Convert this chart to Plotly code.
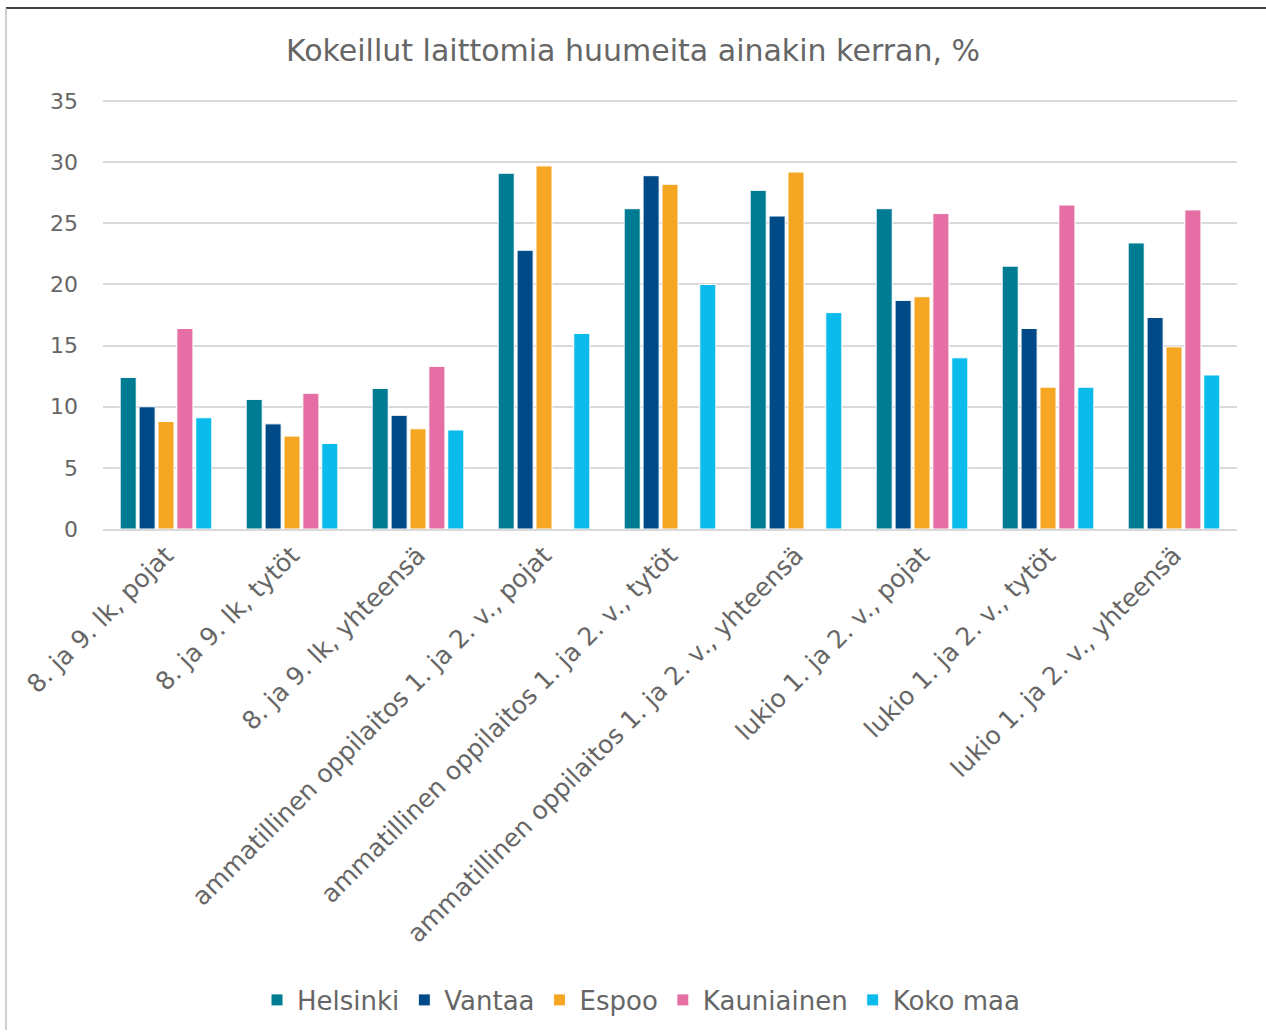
import plotly.graph_objects as go

categories = [
    "8. ja 9. lk, pojat",
    "8. ja 9. lk, tytöt",
    "8. ja 9. lk, yhteensä",
    "ammatillinen oppilaitos 1. ja 2. v., pojat",
    "ammatillinen oppilaitos 1. ja 2. v., tytöt",
    "ammatillinen oppilaitos 1. ja 2. v., yhteensä",
    "lukio 1. ja 2. v., pojat",
    "lukio 1. ja 2. v., tytöt",
    "lukio 1. ja 2. v., yhteensä",
]

helsinki = [12.4, 10.6, 11.5, 29.1, 26.2, 27.7, 26.2, 21.5, 23.4]
vantaa = [10.0, 8.6, 9.3, 22.8, 28.9, 25.6, 18.7, 16.4, 17.3]
espoo = [8.8, 7.6, 8.2, 29.7, 28.2, 29.2, 19.0, 11.6, 14.9]
kauniainen = [16.4, 11.1, 13.3, None, None, None, 25.8, 26.5, 26.1]
koko_maa = [9.1, 7.0, 8.1, 16.0, 20.0, 17.7, 14.0, 11.6, 12.6]

series_names = ["Helsinki", "Vantaa", "Espoo", "Kauniainen", "Koko maa"]
series_values = [helsinki, vantaa, espoo, kauniainen, koko_maa]
colors = ["#007C92", "#004A87", "#F5A623", "#E56EA5", "#0ABBEC"]

y_ticks = [0, 5, 10, 15, 20, 25, 30, 35]

FONT = "DejaVu Sans"
TEXT = "#666666"

W, H = 1266, 1035
L, R, T, B = 103, 29, 95, 506
PW, PH = W - L - R, H - T - B
Y0 = H - B  # pixel row of plot bottom


def py(yp):
    return (Y0 - yp) / PH


def px(xp):
    return (xp - L) / PW


fig = go.Figure()
for name, vals, col in zip(series_names, series_values, colors):
    fig.add_trace(go.Bar(
        name=name, x=categories, y=vals,
        marker=dict(color=col, line=dict(color="white", width=1)),
    ))

fig.update_layout(
    width=W, height=H,
    paper_bgcolor="white", plot_bgcolor="white",
    barmode="group", bargap=0.25, bargroupgap=0.15,
    margin=dict(l=L, r=R, t=T, b=B),
    title=dict(
        text="Kokeillut laittomia huumeita ainakin kerran, %",
        x=0.5, xanchor="center", y=1 - 50 / H, yanchor="middle",
        font=dict(family=FONT, size=30, color=TEXT),
    ),
    font=dict(family=FONT, color=TEXT),
    xaxis=dict(
        tickangle=-45, tickfont=dict(family=FONT, size=25, color=TEXT),
        showgrid=False, showline=True, linecolor="#d9d9d9", linewidth=1.5,
        ticks="",
    ),
    yaxis=dict(
        range=[0, 35.5], tickvals=y_ticks,
        tickfont=dict(family=FONT, size=22, color=TEXT),
        showgrid=True, gridcolor="#d9d9d9", gridwidth=1.5,
        zeroline=False, showline=False, ticks="", ticklabelstandoff=24,
    ),
    legend=dict(
        orientation="h", x=px(641), xanchor="center", y=py(1000), yanchor="middle",
        font=dict(family=FONT, size=26, color=TEXT),
        itemwidth=30, tracegroupgap=0,
    ),
    showlegend=True,
)

# outer frame lines (as seen in the screenshot)
fig.add_shape(type="line", xref="paper", yref="paper",
              x0=px(6), x1=px(1266), y0=py(8), y1=py(8),
              line=dict(color="black", width=1.5))
fig.add_shape(type="line", xref="paper", yref="paper",
              x0=px(6), x1=px(6), y0=py(8), y1=py(1030),
              line=dict(color="#bfbfbf", width=1.5))

fig.write_html(
    "out.html",
    config={"displayModeBar": False},
    post_script="document.body.style.margin='0';document.body.style.overflow='hidden';",
)
